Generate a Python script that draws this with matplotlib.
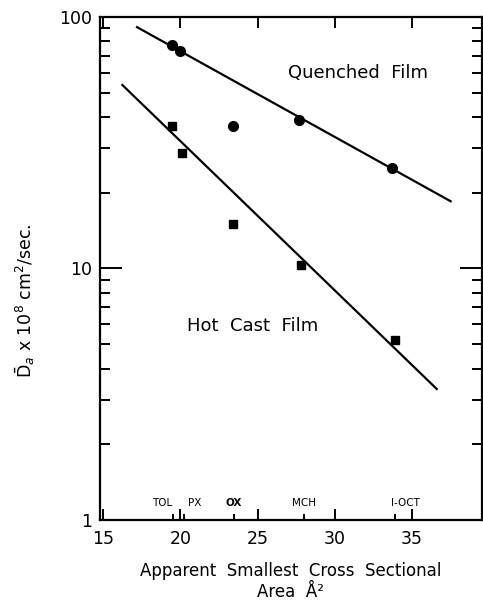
import numpy as np
import matplotlib.pyplot as plt
from matplotlib.ticker import LogLocator, NullFormatter
import matplotlib.transforms as mtransforms

# quenched film (circles) and hot cast film (squares)
area_q = [19.45, 19.95, 23.4, 27.7, 33.7]
d_q = [77, 73, 37, 39, 25]
area_h = [19.45, 20.1, 23.4, 27.8, 33.9]
d_h = [37, 28.7, 15.0, 10.3, 5.2]

# fitted lines (end points)
fit_q_x = [17.2, 37.5]
fit_q_y = [91, 18.5]
fit_h_x = [16.25, 36.6]
fit_h_y = [53.6, 3.32]

# solvent markers on the x axis
solv_x = [19.55, 20.25, 23.5, 28.0, 33.9]
solv_lab = ['TOL', 'PX', 'OX', 'MCH', 'I-OCT']
solv_lab_x = [18.85, 20.95, 23.45, 28.0, 34.6]

fig = plt.figure(figsize=(4.83, 6.02), dpi=100)
ax = fig.add_axes([0.207, 0.136, 0.79, 0.836])

ax.plot(fit_q_x, fit_q_y, color='black', lw=1.6)
ax.plot(fit_h_x, fit_h_y, color='black', lw=1.6)
ax.plot(area_q, d_q, 'o', color='black', ms=7)
ax.plot(area_h, d_h, 's', color='black', ms=5.5)

ax.set_yscale('log')
ax.set_xlim(14.8, 39.5)
ax.set_ylim(1, 100)

ax.set_yticks([1, 10, 100])
ax.set_yticklabels(['1', '10', '100'])
ax.yaxis.set_minor_locator(LogLocator(base=10, subs=np.arange(2, 10)))
ax.yaxis.set_minor_formatter(NullFormatter())
ax.set_xticks([15, 20, 25, 30, 35])
ax.set_xticks(solv_x, minor=True)

for s in ax.spines.values():
    s.set_linewidth(1.6)

ax.tick_params(which='both', direction='in', top=True, right=True,
               width=1.4, labelsize=12.5)
ax.tick_params(axis='y', which='major', length=16, pad=6)
ax.tick_params(axis='y', which='minor', length=7)
ax.tick_params(axis='x', which='major', length=8, pad=7)
ax.tick_params(axis='x', which='minor', length=4, top=False)

trans = mtransforms.blended_transform_factory(ax.transData, ax.transAxes)
for x, lab in zip(solv_lab_x, solv_lab):
    ax.text(x, 0.025, lab, transform=trans, ha='center', va='bottom',
            fontsize=7.5, fontweight='bold' if lab == 'OX' else 'normal')

ax.text(31.5, 60, 'Quenched  Film', fontsize=13, ha='center', va='center')
ax.text(24.65, 5.9, 'Hot  Cast  Film', fontsize=13, ha='center', va='center')

ax.set_xlabel('Apparent  Smallest  Cross  Sectional\nArea  Å²',
              fontsize=12, linespacing=1.25, labelpad=10)
ax.set_ylabel('$\\bar{\\mathrm{D}}_a$ x 10$^8$ cm$^2$/sec.', fontsize=12.5)
ax.yaxis.set_label_coords(-0.165, 0.435)

fig.savefig('out.png', dpi=100)
